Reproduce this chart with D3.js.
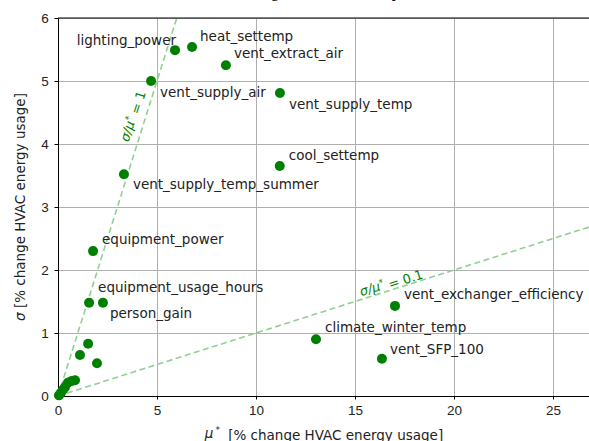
<!DOCTYPE html>
<html>
<head>
<meta charset="utf-8">
<script src="https://cdn.jsdelivr.net/npm/d3@7"></script>
<style>
  body { margin: 0; background: #fff; }
  svg { display: block; font-family: "DejaVu Sans", sans-serif; }
</style>
</head>
<body>
<div id="chart"></div>
<script>
// parameter names and Morris statistics (mu*, sigma)
const names = [
  "lighting_power", "heat_settemp", "vent_extract_air", "vent_supply_air",
  "vent_supply_temp", "cool_settemp", "vent_supply_temp_summer", "equipment_power",
  "equipment_usage_hours", "person_gain", "vent_exchanger_efficiency",
  "climate_winter_temp", "vent_SFP_100",
  "", "", "", "", "", "", "", "", "", ""
];
const muStar = [
  5.91, 6.77, 8.48, 4.70, 11.21, 11.20, 3.33, 1.77, 1.57, 2.27, 17.02, 13.03, 16.36,
  1.52, 1.11, 1.97, 0.86, 0.70, 0.50, 0.35, 0.25, 0.15, 0.05
];
const sigma = [
  5.49, 5.54, 5.25, 5.00, 4.81, 3.65, 3.52, 2.30, 1.48, 1.48, 1.43, 0.90, 0.59,
  0.83, 0.65, 0.52, 0.25, 0.24, 0.21, 0.14, 0.10, 0.05, 0.01
];
// label placement relative to the dot (pixels)
const labelDx = [1, 8, 8, 9, 9, 9, 9, 9, 9, 7, 9, 9, 8];
const labelDy = [-10, -11, -12, 11, 11, -11, 10, -12, -15, 11, -12, -12, -10];
const labelAnchor = ["end"];

const xTicks = [0, 5, 10, 15, 20, 25];
const yTicks = [0, 1, 2, 3, 4, 5, 6];
const ratios = [1, 0.1];

const width = 589, height = 441;
const fs = "13.5px";
const x = d3.scaleLinear().domain([0, 27]).range([58, 592.6]);
const y = d3.scaleLinear().domain([0, 6]).range([396, 18]);

const svg = d3.select("#chart").append("svg")
  .attr("width", width)
  .attr("height", height);

// title, cropped at the top edge as in the original figure
svg.append("text")
  .attr("x", 316)
  .attr("y", -3.5)
  .attr("text-anchor", "middle")
  .style("font-family", "'Liberation Serif', serif")
  .style("font-size", "16px")
  .attr("fill", "#000")
  .text("Morris screening of HVAC model parameters");

// grid
svg.append("g")
  .attr("transform", `translate(0,${y(0)})`)
  .call(d3.axisBottom(x).tickValues(xTicks).tickSize(-(y(0) - y(6))).tickFormat(""))
  .call(g => g.select(".domain").remove())
  .selectAll("line")
  .attr("stroke", "#b0b0b0")
  .attr("stroke-width", 1);

svg.append("g")
  .attr("transform", `translate(${x(0)},0)`)
  .call(d3.axisLeft(y).tickValues(yTicks).tickSize(-(x(27) - x(0))).tickFormat(""))
  .call(g => g.select(".domain").remove())
  .selectAll("line")
  .attr("stroke", "#b0b0b0")
  .attr("stroke-width", 1);

// ratio lines
const lineGen = d3.line().x(d => x(d[0])).y(d => y(d[1]));
svg.append("clipPath").attr("id", "plot-clip")
  .append("rect")
  .attr("x", x(0)).attr("y", y(6))
  .attr("width", x(27) - x(0)).attr("height", y(0) - y(6));

ratios.forEach(r => {
  svg.append("path")
    .datum([[0, 0], [27, 27 * r]])
    .attr("d", lineGen)
    .attr("clip-path", "url(#plot-clip)")
    .attr("fill", "none")
    .attr("stroke", "#90d090")
    .attr("stroke-width", 1.6)
    .attr("stroke-dasharray", "6,3.5");
});

// ratio labels along the lines
const ratioLabelAt = [[132, 116], [391, 282]];
ratios.forEach((r, i) => {
  const ang = Math.atan2(y(r) - y(0), x(1) - x(0)) * 180 / Math.PI;
  const t = svg.append("text")
    .attr("transform", `translate(${ratioLabelAt[i][0]},${ratioLabelAt[i][1]}) rotate(${ang})`)
    .attr("text-anchor", "middle")
    .attr("dy", "0.35em")
    .attr("fill", "green")
    .style("font-size", "13px");
  t.append("tspan").style("font-style", "italic").text("σ/μ");
  t.append("tspan").attr("dy", "-0.45em").style("font-size", "9px").text("*");
  t.append("tspan").attr("dy", "0.45em").text(" = " + r);
});

// axes
const xAxis = svg.append("g")
  .attr("transform", `translate(0,${y(0)})`)
  .call(d3.axisBottom(x).tickValues(xTicks).tickSize(3.5).tickSizeOuter(0).tickFormat(d3.format("d")));
xAxis.select(".domain").attr("stroke", "#000").attr("stroke-width", 1);
xAxis.selectAll("text").attr("fill", "#222").style("font-size", fs).attr("dy", "0.9em");

const yAxis = svg.append("g")
  .attr("transform", `translate(${x(0)},0)`)
  .call(d3.axisLeft(y).tickValues(yTicks).tickSize(3.5).tickSizeOuter(0).tickFormat(d3.format("d")));
yAxis.select(".domain").attr("stroke", "#000").attr("stroke-width", 1);
yAxis.selectAll("text").attr("fill", "#222").style("font-size", fs).attr("dx", "-0.2em");

// top spine
svg.append("line")
  .attr("x1", x(0)).attr("x2", width)
  .attr("y1", y(6)).attr("y2", y(6))
  .attr("stroke", "#000").attr("stroke-width", 1);

// axis titles
const xl = svg.append("text")
  .attr("x", 324)
  .attr("y", 437.5)
  .attr("text-anchor", "middle")
  .attr("fill", "#222")
  .style("font-size", fs);
xl.append("tspan").style("font-style", "italic").text("μ");
xl.append("tspan").attr("dy", "-0.45em").attr("dx", "2").style("font-size", "9px").text("*");
xl.append("tspan").attr("dy", "0.45em").attr("dx", "4").text(" [% change HVAC energy usage]");

svg.append("text")
  .attr("transform", `translate(25,${(y(0) + y(6)) / 2}) rotate(-90)`)
  .attr("text-anchor", "middle")
  .attr("fill", "#222")
  .style("font-size", fs)
  .html('<tspan font-style="italic">σ</tspan> [% change HVAC energy usage]');

// points
const pts = muStar.map((m, i) => ({ m, s: sigma[i], name: names[i], i }));
svg.selectAll(".dot")
  .data(pts)
  .enter()
  .append("circle")
  .attr("class", "dot")
  .attr("cx", d => x(d.m))
  .attr("cy", d => y(d.s))
  .attr("r", 5)
  .attr("fill", "green");

svg.selectAll(".lbl")
  .data(pts.filter(d => d.name))
  .enter()
  .append("text")
  .attr("class", "lbl")
  .attr("x", d => x(d.m) + labelDx[d.i])
  .attr("y", d => y(d.s) + labelDy[d.i])
  .attr("dy", "0.35em")
  .attr("text-anchor", d => labelAnchor[d.i] || "start")
  .attr("fill", "#222")
  .style("font-size", fs)
  .text(d => d.name);
</script>
</body>
</html>
